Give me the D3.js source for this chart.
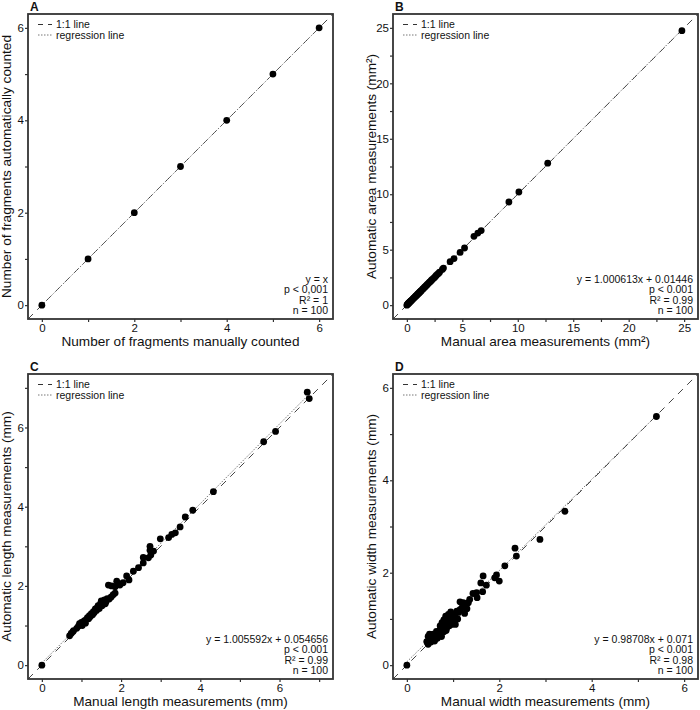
<!DOCTYPE html>
<html>
<head>
<meta charset="utf-8">
<script src="https://cdn.jsdelivr.net/npm/d3@7"></script>
<style>
  body { margin: 0; background: #fff; }
  text { font-family: Arial, "Liberation Sans", sans-serif; fill: #111; }
</style>
</head>
<body>
<div id="chart"></div>
<script>
var width = 700;
var height = 710;
var size = 305; // every panel frame is square

// panel A - fragment counts
var aManual = [0, 1, 2, 3, 4, 5, 6];
var aAuto   = [0, 1, 2, 3, 4, 5, 6];

// panel B - area (mm2)
var bManual = [0, 0.04, 0.08, 0.12, 0.15, 0.2, 0.24, 0.28, 0.32, 0.36, 0.4, 0.45, 0.5, 0.55, 0.6, 0.65, 0.7, 0.75, 0.8, 0.85,
  0.9, 0.95, 1.0, 1.05, 1.1, 1.15, 1.2, 1.25, 1.3, 1.38, 1.45, 1.5, 1.58, 1.65, 1.7, 1.78, 1.85, 1.92, 2.0, 2.08,
  2.15, 2.22, 2.3, 2.4, 2.5, 2.58, 2.65, 2.75, 2.85, 2.95, 3.2, 3.3, 3.9, 4.25, 4.8, 5.2, 6.05, 6.4, 6.7, 9.2,
  10.1, 12.7, 24.8];
var bAuto = [0, 0.05, 0.1, 0.13, 0.17, 0.2, 0.26, 0.3, 0.33, 0.38, 0.41, 0.46, 0.5, 0.57, 0.61, 0.66, 0.7, 0.77, 0.81, 0.86,
  0.9, 0.97, 1.02, 1.06, 1.1, 1.17, 1.21, 1.26, 1.3, 1.4, 1.46, 1.52, 1.6, 1.66, 1.72, 1.8, 1.86, 1.94, 2.02, 2.1,
  2.16, 2.25, 2.31, 2.42, 2.5, 2.6, 2.68, 2.78, 2.86, 2.97, 3.22, 3.34, 3.92, 4.2, 4.75, 5.15, 6.2, 6.5, 6.72, 9.3,
  10.2, 12.8, 24.75];

// panel C - length (mm)
var cManual = [0, 0.7, 0.74, 0.78, 0.8, 0.88, 0.92, 0.95, 0.97, 1.0, 1.02, 1.05, 1.08, 1.1, 1.12, 1.15, 1.18, 1.2, 1.22, 1.25,
  1.28, 1.3, 1.32, 1.35, 1.38, 1.4, 1.42, 1.45, 1.48, 1.5, 1.52, 1.55, 1.58, 1.6, 1.62, 1.65, 1.7, 1.75, 1.8, 1.85,
  1.68, 1.76, 1.85, 1.89, 1.95, 1.97, 2.05, 2.14, 2.2, 2.31, 2.44, 2.56, 2.56, 2.69, 2.73, 2.73, 2.82, 2.75, 2.99, 3.2,
  3.28, 3.37, 3.49, 3.62, 3.81, 4.33, 5.6, 5.9, 6.7, 6.75];
var cAuto = [0, 0.74, 0.8, 0.84, 0.87, 0.93, 0.98, 1.05, 1.02, 1.08, 1.0, 1.1, 1.12, 1.06, 1.15, 1.2, 1.17, 1.25, 1.22, 1.3,
  1.27, 1.35, 1.32, 1.42, 1.38, 1.45, 1.5, 1.43, 1.55, 1.62, 1.5, 1.58, 1.65, 1.55, 1.6, 1.68, 1.67, 1.72, 1.78, 1.82,
  2.02, 2.0, 1.98, 2.12, 2.05, 2.02, 2.08, 2.25, 2.15, 2.37, 2.46, 2.58, 2.72, 2.71, 3.0, 2.9, 2.88, 2.78, 3.19, 3.22,
  3.3, 3.34, 3.49, 3.74, 3.91, 4.38, 5.64, 5.9, 6.89, 6.73];

// panel D - width (mm)
var dManual = [0, 5.4, 3.42, 2.88, 2.34, 2.37, 2.12, 1.94, 1.9, 2.0, 1.65, 1.6, 1.72, 1.64, 1.51, 1.43, 1.52, 1.36, 1.33, 1.22,
  1.15, 1.26, 1.19, 1.08, 1.12, 1.04, 0.86, 0.94, 0.82, 0.89, 0.79, 0.97, 1.05, 0.86, 0.78, 0.72, 0.64, 0.75, 0.68, 0.57,
  0.49, 0.46, 0.43, 0.49, 0.46, 0.57, 0.8, 0.84, 0.9, 0.95, 1.0, 1.02, 0.92, 0.85, 0.7, 0.62, 0.55, 0.52, 0.6, 0.66,
  0.8, 0.88, 1.1, 0.76, 0.98, 1.15, 1.25, 1.3, 0.72, 0.58];
var dAuto = [0, 5.38, 3.33, 2.72, 2.53, 2.36, 2.15, 1.95, 1.89, 1.82, 1.93, 1.78, 1.73, 1.59, 1.57, 1.55, 1.46, 1.42, 1.35, 1.35,
  1.37, 1.28, 1.24, 1.17, 1.14, 1.08, 1.02, 0.98, 0.95, 0.91, 0.88, 0.88, 0.88, 0.8, 0.77, 0.77, 0.73, 0.62, 0.66, 0.67,
  0.67, 0.62, 0.51, 0.55, 0.45, 0.55, 0.98, 1.06, 1.1, 1.15, 1.05, 0.95, 0.85, 0.75, 0.7, 0.6, 0.6, 0.5, 0.52, 0.58,
  0.72, 0.95, 1.0, 0.92, 1.02, 1.2, 1.12, 1.22, 0.85, 0.62];

// regression fits as printed on each panel
var slopes     = [1, 1.000613, 1.005592, 0.98708];
var intercepts = [0, 0.01446, 0.054656, 0.071];

// axis ranges and ticks
var axisMax    = [6, 25, 7, 6];
var majorTicks = [[0, 2, 4, 6], [0, 5, 10, 15, 20, 25], [0, 2, 4, 6], [0, 2, 4, 6]];
var minorTicks = [[1, 3, 5], [2.5, 7.5, 12.5, 17.5, 22.5], [1, 3, 5, 7], [1, 3, 5]];

var panelLetters = ["A", "B", "C", "D"];
var xTitles = ["Number of fragments manually counted", "Manual area measurements (mm²)",
  "Manual length measurements (mm)", "Manual width measurements (mm)"];
var yTitles = ["Number of fragments automatically counted", "Automatic area measurements (mm²)",
  "Automatic length measurements (mm)", "Automatic width measurements (mm)"];
var statLines = [
  ["y = x", "p < 0,001", "R² = 1", "n = 100"],
  ["y = 1.000613x + 0.01446", "p < 0.001", "R² = 0.99", "n = 100"],
  ["y = 1.005592x + 0.054656", "p < 0.001", "R² = 0.99", "n = 100"],
  ["y = 0.98708x + 0.071", "p < 0.001", "R² = 0.98", "n = 100"]
];
var legendLabels = ["1:1 line", "regression line"];

var manual = [aManual, bManual, cManual, dManual];
var auto = [aAuto, bAuto, cAuto, dAuto];
var origins = [[28, 14], [393, 14], [28, 374], [393, 374]];

var svg = d3.select("#chart")
  .append("svg")
  .attr("width", width)
  .attr("height", height);

function drawPanel(i) {
  var left = origins[i][0], top = origins[i][1];
  var pad = axisMax[i] * 0.05;
  var lo = -pad, hi = axisMax[i] + pad;

  var x = d3.scaleLinear().domain([lo, hi]).range([0, size]);
  var y = d3.scaleLinear().domain([lo, hi]).range([size, 0]);

  var g = svg.append("g").attr("transform", "translate(" + left + "," + top + ")");

  g.append("clipPath").attr("id", "clip" + i)
    .append("rect").attr("width", size).attr("height", size);

  // axes, major ticks labelled and minor ticks plain
  var allTicks = majorTicks[i].concat(minorTicks[i]);
  var fmt = function(d) { return majorTicks[i].indexOf(d) >= 0 ? d : ""; };

  var xa = g.append("g")
    .attr("transform", "translate(0," + size + ")")
    .call(d3.axisBottom(x).tickValues(allTicks).tickSize(3).tickPadding(2).tickFormat(fmt));
  var ya = g.append("g")
    .call(d3.axisLeft(y).tickValues(allTicks).tickSize(3).tickPadding(1).tickFormat(fmt));
  [xa, ya].forEach(function(a) {
    a.select(".domain").remove();
    a.selectAll("line").attr("stroke", "#333").attr("stroke-width", 1.2);
    a.selectAll("text").style("font-size", "11.5px").attr("fill", "#111");
  });

  var plot = g.append("g").attr("clip-path", "url(#clip" + i + ")");

  // 1:1 line
  plot.append("line")
    .attr("x1", x(lo)).attr("y1", y(lo))
    .attr("x2", x(hi)).attr("y2", y(hi))
    .attr("stroke", "#444").attr("stroke-width", 1)
    .attr("stroke-dasharray", "7,6");

  // regression line over the range of the data
  var xs = d3.extent(manual[i]);
  plot.append("line")
    .attr("x1", x(xs[0])).attr("y1", y(slopes[i] * xs[0] + intercepts[i]))
    .attr("x2", x(xs[1])).attr("y2", y(slopes[i] * xs[1] + intercepts[i]))
    .attr("stroke", "#777").attr("stroke-width", 1)
    .attr("stroke-dasharray", "1.5,1.5");

  // points
  plot.selectAll("circle")
    .data(manual[i].map(function(v, k) { return [v, auto[i][k]]; }))
    .enter().append("circle")
    .attr("cx", function(d) { return x(d[0]); })
    .attr("cy", function(d) { return y(d[1]); })
    .attr("r", 3.4)
    .attr("fill", "#000");

  // frame
  g.append("rect")
    .attr("width", size).attr("height", size)
    .attr("fill", "none")
    .attr("stroke", "#333").attr("stroke-width", 1.8);

  // legend
  var leg = g.append("g").attr("transform", "translate(10,0)");
  leg.append("line").attr("x1", 0).attr("x2", 14).attr("y1", 10.5).attr("y2", 10.5)
    .attr("stroke", "#333").attr("stroke-dasharray", "5,5");
  leg.append("line").attr("x1", 0).attr("x2", 14).attr("y1", 21).attr("y2", 21)
    .attr("stroke", "#777").attr("stroke-dasharray", "1.5,1.5");
  leg.selectAll("text")
    .data(legendLabels)
    .enter().append("text")
    .attr("x", 18)
    .attr("y", function(d, k) { return 14.3 + k * 10.5; })
    .style("font-size", "10.5px")
    .text(function(d) { return d; });

  // fit statistics, bottom right
  g.append("g").selectAll("text")
    .data(statLines[i])
    .enter().append("text")
    .attr("x", size - 5)
    .attr("y", function(d, k) { return size - 5 - (3 - k) * 10.5; })
    .attr("text-anchor", "end")
    .style("font-size", "10.5px")
    .text(function(d) { return d; });

  // titles
  g.append("text")
    .attr("x", size / 2)
    .attr("y", size + 27)
    .attr("text-anchor", "middle")
    .style("font-size", "13.6px")
    .text(xTitles[i]);

  g.append("text")
    .attr("transform", "translate(-17," + (size / 2) + ") rotate(-90)")
    .attr("text-anchor", "middle")
    .style("font-size", "13.6px")
    .text(yTitles[i]);

  g.append("text")
    .attr("x", 2)
    .attr("y", -3)
    .style("font-size", "12px")
    .style("font-weight", "bold")
    .text(panelLetters[i]);
}

for (var i = 0; i < 4; i++) drawPanel(i);
</script>
</body>
</html>
